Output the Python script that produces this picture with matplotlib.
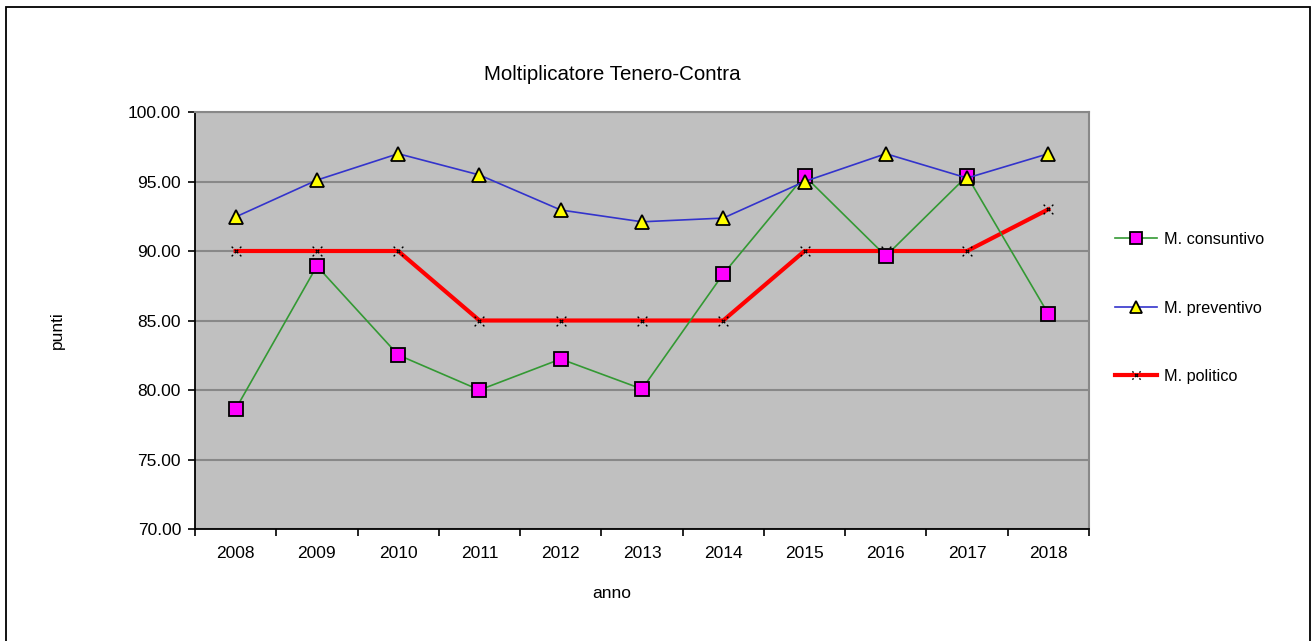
import matplotlib
matplotlib.use("Agg")
import matplotlib.pyplot as plt
import numpy as np
from matplotlib.path import Path
from matplotlib.patches import Rectangle

years = ["2008", "2009", "2010", "2011", "2012", "2013", "2014", "2015", "2016", "2017", "2018"]
consuntivo = [78.63, 88.92, 82.52, 80.0, 82.23, 80.07, 88.35, 95.4, 89.64, 95.4, 85.47]
preventivo = [92.45, 95.1, 97.0, 95.47, 92.95, 92.1, 92.37, 95.0, 97.0, 95.25, 97.0]
politico = [90, 90, 90, 85, 85, 85, 85, 90, 90, 90, 93]
labels = ["M. consuntivo", "M. preventivo", "M. politico"]
yticks = [70, 75, 80, 85, 90, 95, 100]

plt.rcParams['font.family'] = ['Liberation Sans', 'DejaVu Sans']

W, H = 1312, 641
fig = plt.figure(figsize=(W / 100, H / 100), dpi=100)
fig.patch.set_facecolor('white')

# figure border
fig.patches.append(Rectangle((6 / W, -0.02), (1310 - 6) / W, (641 - 7) / H + 0.02,
                             transform=fig.transFigure, fill=False, edgecolor='black',
                             linewidth=1.3, zorder=0))

ax = fig.add_axes([195 / W, (H - 529) / H, (1089 - 195) / W, (529 - 112) / H])
ax.set_facecolor('#C0C0C0')

x = np.arange(len(years))

# dotted-X marker
segs = []
codes = []
for sx, sy in [(1, 1), (1, -1)]:
    for t0, t1 in [(-1.0, -0.7), (-0.35, -0.05), (0.05, 0.35), (0.7, 1.0)]:
        segs += [(sx * t0, sy * t0), (sx * t1, sy * t1)]
        codes += [Path.MOVETO, Path.LINETO]
xmark = Path(segs, codes)

ax.plot(x, consuntivo, color='#339933', lw=1.2, marker='s', ms=9.5,
        mfc='#FF00FF', mec='black', mew=1.3, label=labels[0], zorder=3)
ax.plot(x, preventivo, color='#3333CC', lw=1.2, marker='^', ms=10,
        mfc='#FFFF00', mec='black', mew=1.3, label=labels[1], zorder=3)
ax.plot(x, politico, color='#FF0000', lw=3.0, marker=xmark, ms=7,
        mfc='none', mec='black', mew=1.0, label=labels[2], zorder=2)

ax.set_ylim(70, 100)
ax.set_xlim(-0.5, len(years) - 0.5)
ax.set_yticks(yticks)
ax.set_yticklabels([f"{v:.2f}" for v in yticks], fontsize=12.5)
ax.yaxis.grid(True, color='#888888', lw=1.5)
ax.set_axisbelow(True)

ax.set_xticks(x)
ax.set_xticklabels(years, fontsize=12.5)
ax.tick_params(axis='x', which='major', length=0, pad=12)
ax.set_xticks(np.arange(-0.5, len(years), 1.0), minor=True)
ax.tick_params(axis='x', which='minor', length=5, width=1.2, direction='out', color='black')
ax.tick_params(axis='y', length=5, width=1.2, direction='out', pad=5)

for s in ['left', 'bottom']:
    ax.spines[s].set_color('black')
    ax.spines[s].set_linewidth(1.3)
for s in ['top', 'right']:
    ax.spines[s].set_color('#888888')
    ax.spines[s].set_linewidth(1.5)

fig.text(612 / W, (H - 75) / H, "Moltiplicatore Tenero-Contra", ha='center', va='center', fontsize=14.8)
fig.text(612 / W, (H - 594) / H, "anno", ha='center', va='center', fontsize=12.5)
fig.text(57 / W, (H - 330) / H, "punti", ha='center', va='center', rotation=90, fontsize=12.5)

leg = ax.legend(loc='center left', bbox_to_anchor=(1115 / W, (H - 308) / H),
                bbox_transform=fig.transFigure, frameon=False, fontsize=11.7,
                labelspacing=3.3, handlelength=2.6, handletextpad=0.4,
                borderpad=0, borderaxespad=0, markerscale=0.85)

fig.savefig("out.png", dpi=100)
